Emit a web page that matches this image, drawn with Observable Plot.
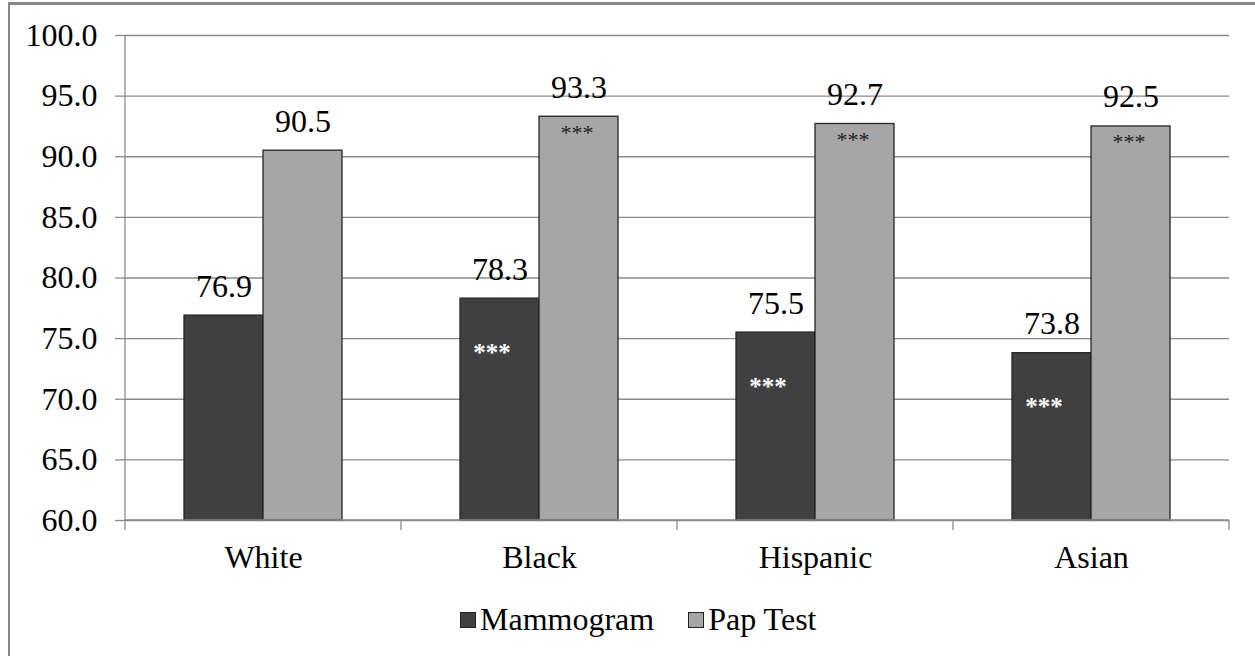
<!DOCTYPE html>
<html>
<head>
<meta charset="utf-8">
<script src="https://cdn.jsdelivr.net/npm/d3@7"></script>
<script src="https://cdn.jsdelivr.net/npm/@observablehq/plot@0.6"></script>
<style>
  body { margin: 0; background: #fff; font-family: "Liberation Serif", "Times New Roman", serif; }
  #frame { position: absolute; left: 8px; top: 2px; width: 1300px; height: 700px;
           border-left: 2px solid #878787; border-top: 3px solid #878787; }
  #chart { position: absolute; left: 0; top: 0; }
  #chart svg text { font-family: "Liberation Serif", "Times New Roman", serif; }
  #legend { position: absolute; left: 460px; top: 601px; display: flex; align-items: center;
            font-size: 32px; color: #000; white-space: nowrap; }
  #legend span.sw { display: inline-block; width: 14px; height: 14px; border: 1px solid #222;
                    margin-right: 4px; }
  #legend .item { display: flex; align-items: center; margin-right: 34px; }
</style>
</head>
<body>
<div id="frame"></div>
<div id="chart"></div>
<div id="legend"></div>
<script>
const categories = ["White", "Black", "Hispanic", "Asian"];
const series = ["Mammogram", "Pap Test"];
const mammogram = [76.9, 78.3, 75.5, 73.8];
const papTest = [90.5, 93.3, 92.7, 92.5];
const starsMammogram = ["", "***", "***", "***"];
const starsPap = ["", "***", "***", "***"];
const yTicks = [60, 65, 70, 75, 80, 85, 90, 95, 100];
const colors = ["#404040", "#a6a6a6"];

const serif = "Liberation Serif";

const rows = categories.flatMap((c, i) => [
  { group: c, series: series[0], value: mammogram[i], stars: starsMammogram[i] },
  { group: c, series: series[1], value: papTest[i], stars: starsPap[i] },
]);

const chart = Plot.plot({
  width: 1255,
  height: 580,
  marginLeft: 125,
  marginRight: 26,
  marginTop: 35,
  marginBottom: 60,
  style: { fontFamily: serif, fontSize: "32px", background: "transparent", color: "#000" },
  fx: { domain: categories, padding: 0, label: null },
  x: { domain: series, paddingInner: 0, paddingOuter: 0.74, axis: null },
  y: { domain: [60, 100], label: null },
  color: { domain: series, range: colors },
  marks: [
    Plot.gridY(yTicks, { stroke: "#8a8a8a", strokeOpacity: 1, strokeWidth: 1.3 }),
    Plot.axisY(yTicks, { tickSize: 10, tickPadding: 18, tickFormat: d3.format(".1f"),
                         stroke: "#8a8a8a", strokeWidth: 1.3, fill: "#000", label: null,
                         fontFamily: serif, fontSize: 32 }),
    Plot.axisFx({ anchor: "bottom", tickSize: 0, tickPadding: 25, label: null, fill: "#000",
                  fontFamily: serif, fontSize: 32 }),
    Plot.barY(rows, { fx: "group", x: "series", y1: 60, y2: "value", fill: "series",
                      stroke: "#262626", strokeWidth: 1.3 }),
    Plot.text(rows, { fx: "group", x: "series", y: "value", text: d => d.value.toFixed(1),
                      lineAnchor: "bottom", dy: -19, fill: "#000", fontFamily: serif, fontSize: 32 }),
    Plot.text(rows.filter(d => d.series === series[0]), { fx: "group", x: "series", y: "value",
                      text: "stars", fill: "#fff", fontWeight: "bold", fontFamily: serif,
                      fontSize: 25, dx: -8, dy: 54 }),
    Plot.text(rows.filter(d => d.series === series[1]), { fx: "group", x: "series", y: "value",
                      text: "stars", fill: "#222", fontFamily: serif, fontSize: 22, dx: -2, dy: 16 }),
  ],
});
document.getElementById("chart").append(chart);

// axis lines and category boundary ticks, placed through the plot's own scales
const fx = chart.scale("fx"), y = chart.scale("y");
const svg = d3.select(chart.tagName === "svg" ? chart : chart.querySelector("svg"));
const left = fx.apply(categories[0]);
const right = fx.apply(categories[categories.length - 1]) + fx.bandwidth;
const y0 = y.apply(60), y1 = y.apply(100);
const g = svg.append("g").attr("stroke", "#8a8a8a").attr("stroke-width", 1.3);
g.append("line").attr("x1", left).attr("x2", left).attr("y1", y1).attr("y2", y0);
g.append("line").attr("x1", left).attr("x2", right).attr("y1", y0).attr("y2", y0);
categories.map(c => fx.apply(c)).concat([right]).forEach(x => {
  g.append("line").attr("x1", x).attr("x2", x).attr("y1", y0).attr("y2", y0 + 10);
});

const legend = document.getElementById("legend");
series.forEach((s, i) => {
  const item = document.createElement("div");
  item.className = "item";
  item.innerHTML = `<span class="sw" style="background:${colors[i]}"></span>${s}`;
  legend.append(item);
});
</script>
</body>
</html>
